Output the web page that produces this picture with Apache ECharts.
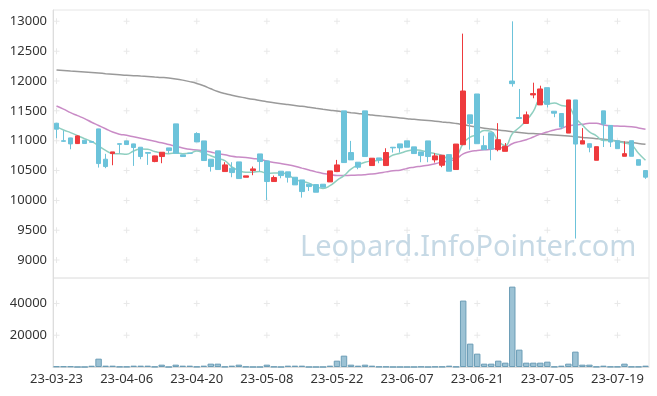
<!DOCTYPE html>
<html><head><meta charset="utf-8">
<script src="https://cdn.jsdelivr.net/npm/echarts@6/dist/echarts.min.js"></script>
<style>html,body{margin:0;padding:0;background:#fff}#c{width:657px;height:396px}</style>
</head><body><div id="c"></div><script>
const dates = ['23-03-23','23-03-24','23-03-27','23-03-28','23-03-29','23-03-30','23-03-31','23-04-03','23-04-04','23-04-05',
'23-04-06','23-04-07','23-04-10','23-04-11','23-04-12','23-04-13','23-04-14','23-04-17','23-04-18','23-04-19',
'23-04-20','23-04-21','23-04-24','23-04-25','23-04-26','23-04-27','23-04-28','23-05-02','23-05-03','23-05-04',
'23-05-08','23-05-09','23-05-10','23-05-11','23-05-12','23-05-15','23-05-16','23-05-17','23-05-18','23-05-19',
'23-05-22','23-05-23','23-05-24','23-05-25','23-05-26','23-05-30','23-05-31','23-06-01','23-06-02','23-06-05',
'23-06-07','23-06-08','23-06-09','23-06-12','23-06-13','23-06-14','23-06-15','23-06-16','23-06-19','23-06-20',
'23-06-21','23-06-22','23-06-23','23-06-26','23-06-27','23-06-28','23-06-29','23-06-30','23-07-03','23-07-04',
'23-07-05','23-07-06','23-07-07','23-07-10','23-07-11','23-07-12','23-07-13','23-07-14','23-07-17','23-07-18',
'23-07-19','23-07-20','23-07-21','23-07-24','23-07-25'];

const opens = [11293,11000,11047,10952,11008,10985,11198,10690,10785,10950,
10997,10947,10891,10802,10651,10735,10880,11282,10763,10790,
11120,10997,10690,10830,10483,10539,10645,10388,10500,10779,
10662,10316,10489,10478,10388,10343,10271,10265,10271,10310,
10483,11500,10802,10640,11500,10584,10712,10584,10891,10947,
10997,10897,10813,10997,10679,10589,10767,10517,10933,11433,
11783,10917,11133,10850,10822,12000,11389,11289,11767,11600,
11889,11494,11456,11128,11683,10944,10950,10672,11500,11256,
11000,10739,11000,10683,10500];

const closes = [11193,10990,10947,11081,10953,10975,10617,10567,10813,10940,
10936,10886,10735,10790,10746,10807,10835,10790,10735,10790,
10980,10668,10567,10517,10595,10466,10366,10411,10528,10651,
10316,10383,10416,10388,10260,10148,10232,10137,10221,10494,
10595,10634,10679,10556,10735,10707,10679,10802,10880,10880,
10891,10785,10751,10735,10746,10757,10489,10944,11833,11289,
10950,10850,10861,11017,10906,11956,11372,11433,11789,11867,
11611,11461,11228,11683,10944,11000,10889,10900,11278,10978,
10867,10783,10739,10589,10389];

const lows = [11042,10980,10857,10945,10950,10970,10550,10540,10589,10790,
10930,10578,10690,10595,10640,10623,10790,10790,10735,10790,
10980,10660,10483,10510,10483,10388,10366,10388,10422,10483,
10008,10316,10371,10299,10260,10047,10159,10137,10221,10310,
10483,10634,10679,10522,10735,10584,10623,10584,10802,10802,
10891,10785,10640,10640,10634,10556,10489,10517,10933,10850,
10950,10850,10672,10822,10822,11906,11372,11289,11711,11600,
11556,11394,11194,11128,9361,10944,10806,10672,10894,10894,
10867,10739,10739,10589,10361];

const highs = [11300,11170,11050,11090,11010,10985,11200,10780,10813,10950,
11000,10950,10891,10802,10750,10807,10880,11282,10763,10790,
11142,10997,10690,10830,10640,10640,10645,10411,10567,10779,
10662,10416,10489,10478,10388,10343,10271,10265,10271,10494,
10679,11500,10997,10640,11500,10707,10712,10874,10891,10947,
10997,10897,10813,10997,10790,10757,10767,10944,12794,11433,
11783,11083,11133,11294,10961,13000,11867,11489,11972,11922,
11889,11494,11456,11683,11683,11211,10950,10900,11500,11256,
11000,10989,11000,10683,10500];

const volumes = [400,400,400,20,20,800,5260,840,840,200,
200,840,840,840,200,1470,30,1470,840,840,
200,840,2100,2100,200,840,1470,200,30,30,
1470,200,30,840,840,840,30,30,30,840,
4000,7160,1470,840,1470,840,200,200,20,20,
20,20,200,20,200,200,840,200,41900,14740,
8420,2100,2100,4000,2740,50700,10950,2740,2740,2740,
3370,200,840,2100,9700,1470,1470,200,840,200,
200,2100,200,200,840];

const ma5 = [11235,11180,11135,11085,11033,10989,10915,10839,10785,10782,
10775,10828,10862,10857,10819,10793,10783,10794,10783,10791,
10826,10793,10748,10704,10665,10563,10502,10471,10473,10484,
10454,10458,10459,10431,10353,10319,10289,10233,10200,10246,
10336,10416,10525,10592,10640,10662,10671,10696,10761,10790,
10826,10848,10837,10808,10782,10755,10696,10734,10954,11062,
11101,11173,11157,10993,10917,11118,11222,11337,11491,11683,
11614,11632,11591,11570,11385,11263,11149,11083,11002,11009,
10982,10961,10929,10791,10673];

const ma20 = [11581,11530,11470,11420,11370,11310,11255,11200,11145,11110,
11090,11065,11040,11015,10990,10965,10935,10905,10878,10856,
10846,10830,10811,10782,10764,10739,10726,10719,10704,10690,
10659,10634,10618,10598,10573,10541,10510,10478,10452,10437,
10418,10416,10422,10424,10431,10443,10459,10478,10496,10507,
10536,10556,10573,10590,10614,10645,10658,10698,10779,10818,
10836,10847,10856,10879,10888,10950,10985,11016,11062,11111,
11147,11181,11205,11252,11262,11274,11294,11292,11264,11249,
11245,11241,11235,11214,11194];

const ma60 = [12184,12175,12166,12158,12150,12142,12133,12124,12115,12105,
12096,12090,12083,12076,12068,12060,12050,12035,12015,11990,
11960,11920,11870,11825,11790,11762,11738,11715,11693,11673,
11653,11637,11620,11605,11590,11576,11560,11543,11527,11512,
11497,11484,11470,11456,11442,11430,11418,11406,11394,11382,
11370,11358,11348,11338,11327,11315,11304,11288,11268,11248,
11228,11210,11195,11180,11165,11150,11136,11127,11120,11113,
11104,11095,11086,11077,11068,11055,11045,11035,11025,11010,
10993,10980,10968,10955,10940];

const priceTicks = [9000,9500,10000,10500,11000,11500,12000,12500,13000];
const volumeTicks = [20000,40000];
const labelIndices = [0,10,20,30,40,50,60,70,80];
const watermark = 'Leopard.InfoPointer.com';

const candles = dates.map((d,i)=>[opens[i],closes[i],lows[i],highs[i]]);
const plusPriceData = [];
labelIndices.forEach(ix=>priceTicks.forEach(v=>plusPriceData.push([ix,v])));
const plusVolData = [];
labelIndices.forEach(ix=>volumeTicks.forEach(v=>plusVolData.push([ix,v])));

const UP = '#ee3a3d', DOWN = '#6cc3da';
const plusPath = 'path://M0,2.5h6v1h-6z M2.5,0h1v6h-1z';
const FONT = 'Noto Sans';

const chart = echarts.init(document.getElementById('c'), null, {renderer:'canvas'});
chart.setOption({
  animation:false,
  backgroundColor:'#ffffff',
  textStyle:{fontFamily:FONT},
  graphic:[{type:'text', left:300, top:233, z:-10, silent:true,
    style:{text:watermark, fontSize:29, fontFamily:FONT, fill:'#c6d9e5'}}],
  grid:[
    {left:53, right:8, top:10, height:268, show:true, borderColor:'#e6e6e6', borderWidth:1},
    {left:53, right:8, top:278, height:89, show:true, borderColor:'#e6e6e6', borderWidth:1}
  ],
  xAxis:[
    {type:'category', gridIndex:0, data:dates, boundaryGap:true,
     axisLine:{show:false}, axisTick:{show:false}, axisLabel:{show:false}, splitLine:{show:false}},
    {type:'category', gridIndex:1, data:dates, boundaryGap:true,
     axisLine:{show:true, lineStyle:{color:'#dddddd'}}, axisTick:{show:false}, splitLine:{show:false},
     axisLabel:{interval:9, color:'#333333', fontSize:13, margin:6, fontFamily:FONT}}
  ],
  yAxis:[
    {type:'value', gridIndex:0, min:8700, max:13190, interval:100, scale:true,
     axisLine:{show:true, lineStyle:{color:'#dddddd'}}, axisTick:{show:false}, splitLine:{show:false},
     axisLabel:{color:'#333333', fontSize:13, margin:6, fontFamily:FONT,
       formatter:v=>(v%500===0 ? String(v) : '')}},
    {type:'value', gridIndex:1, min:0, max:56150, interval:20000,
     axisLine:{show:true, lineStyle:{color:'#dddddd'}}, axisTick:{show:false}, splitLine:{show:false},
     axisLabel:{color:'#333333', fontSize:13, margin:6, fontFamily:FONT,
       formatter:v=>((v>0 && v%20000===0) ? String(v) : '')}}
  ],
  series:[
    {type:'scatter', xAxisIndex:0, yAxisIndex:0, data:plusPriceData, symbol:plusPath, symbolSize:6,
     itemStyle:{color:'#e2e2e2'}, silent:true, z:1},
    {type:'scatter', xAxisIndex:1, yAxisIndex:1, data:plusVolData, symbol:plusPath, symbolSize:6,
     itemStyle:{color:'#e2e2e2'}, silent:true, z:1},
    {type:'line', name:'MA60', xAxisIndex:0, yAxisIndex:0, data:ma60, showSymbol:false, smooth:true,
     lineStyle:{color:'#9a9a9a', width:1.5}, z:2, silent:true},
    {type:'line', name:'MA20', xAxisIndex:0, yAxisIndex:0, data:ma20, showSymbol:false, smooth:true,
     lineStyle:{color:'#c98bc6', width:1.5}, z:2, silent:true},
    {type:'line', name:'MA5', xAxisIndex:0, yAxisIndex:0, data:ma5, showSymbol:false, smooth:true,
     lineStyle:{color:'#8fcfc0', width:1.5}, z:2, silent:true},
    {type:'candlestick', xAxisIndex:0, yAxisIndex:0, data:candles, barWidth:'74%', z:3,
     itemStyle:{color:UP, color0:DOWN, borderColor:UP, borderColor0:DOWN, borderWidth:1,
       borderColorDoji:DOWN}},
    {type:'bar', xAxisIndex:1, yAxisIndex:1, data:volumes, barWidth:'92%',
     itemStyle:{color:'#9cc2d4', borderColor:'#6b9db6', borderWidth:1}, z:3}
  ]
});
</script></body></html>
